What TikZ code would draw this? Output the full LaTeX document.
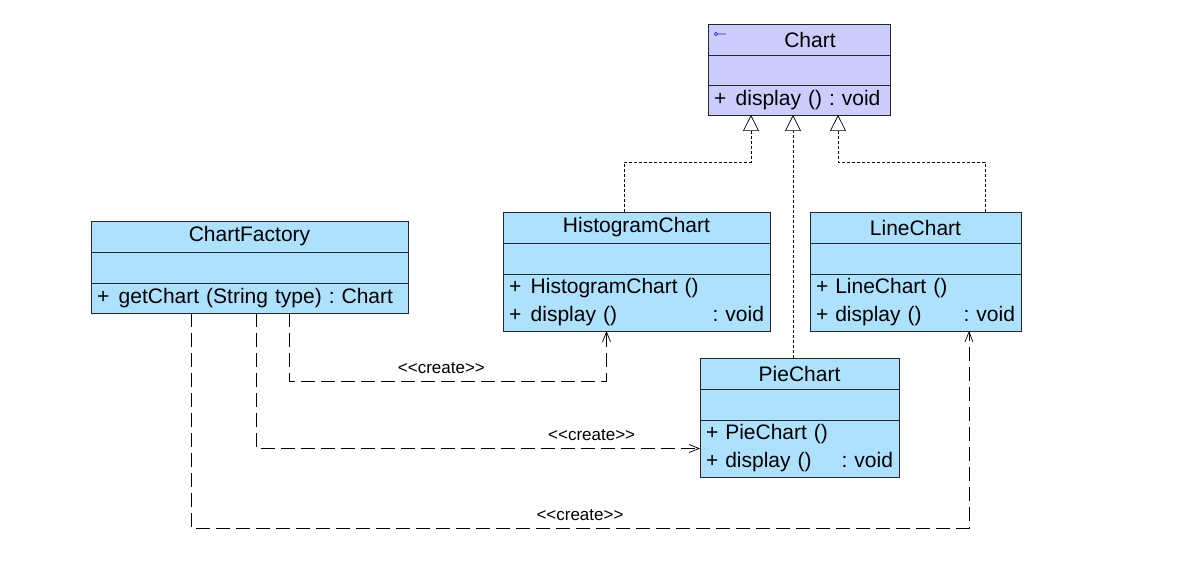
\documentclass[tikz,border=0pt]{standalone}
\usepackage{fontspec}
\setmainfont{Liberation Sans}
\usetikzlibrary{arrows.meta,positioning,calc}
\definecolor{clsfill}{RGB}{174,224,255}
\definecolor{ifill}{RGB}{204,204,255}
\definecolor{iconblue}{RGB}{40,40,230}
\newcommand{\clsfont}{\fontsize{21}{28}\selectfont\frenchspacing}
\newcommand{\lblfont}{\fontsize{17}{19}\selectfont}
\newcommand{\pub}{+\hspace{0.45em}}

\begin{document}
\begin{tikzpicture}[x=1pt,y=-1pt,
	every node/.style={font=\clsfont},
	part/.style={draw=black!85, fill=clsfill, inner sep=0pt, outer sep=0pt, minimum width=#1},
	namepart/.style={part=#1, minimum height=31},
	attrpart/.style={part=#1, minimum height=30},
	opspart/.style={part=#1, inner xsep=6pt, text width=#1-12, align=left},
	realize/.style={line width=0.7pt, dash pattern=on 3pt off 2pt, -{Triangle[open,length=16pt,width=16pt,line width=0.7pt]}},
	create/.style={line width=0.7pt, dash pattern=on 14pt off 6pt, -{Straight Barb[length=10pt,width=8pt]}},
	lbl/.style={font=\lblfont, inner sep=4pt, yshift=3pt}]
	\useasboundingbox (0,0) rectangle (1203,588);

	% interface
	\node[namepart=182, fill=ifill, anchor=north west] (chart) at (708,24) {\hspace*{22pt}Chart};
	\node[attrpart=182, fill=ifill, below=0pt of chart] (chartattr) {};
	\node[opspart=182, fill=ifill, minimum height=30, below=0pt of chartattr] (chartops) {\pub display () : void};
	\draw[iconblue, line width=0.6pt] (716,34) circle (1.6) (717.6,34) -- (726,34);

	% factory
	\node[namepart=317, anchor=north west] (factory) at (91,221) {ChartFactory};
	\node[attrpart=317, minimum height=31, below=0pt of factory] (factoryattr) {};
	\node[opspart=317, minimum height=30, below=0pt of factoryattr] (factoryops) {\pub getChart (String type) : Chart};

	% concrete charts
	\node[namepart=267, anchor=north west] (histo) at (503,212) {HistogramChart};
	\node[attrpart=267, minimum height=31, below=0pt of histo] (histoattr) {};
	\node[opspart=267, minimum height=57, below=0pt of histoattr] (histoops) {\pub HistogramChart ()\\\pub display () \hfill : void};

	\node[namepart=211, anchor=north west] (line) at (810,212) {LineChart};
	\node[attrpart=211, minimum height=31, below=0pt of line] (lineattr) {};
	\node[opspart=211, minimum height=57, below=0pt of lineattr] (lineops) {+ LineChart ()\\+ display () \hfill : void};

	\node[namepart=199, anchor=north west] (pie) at (700,358) {PieChart};
	\node[attrpart=199, minimum height=31, below=0pt of pie] (pieattr) {};
	\node[opspart=199, minimum height=57, below=0pt of pieattr] (pieops) {+ PieChart ()\\+ display () \hfill : void};

	% realization
	\draw[realize] ([xshift=-12.5]histo.north) |- ($(chartops.south)+(-48,47)$) -- ([xshift=-48]chartops.south);
	\draw[realize] ([xshift=-6.5]pie.north) -- ([xshift=-6]chartops.south);
	\draw[realize] ([xshift=69.5]line.north) |- ($(chartops.south)+(39,47)$) -- ([xshift=39]chartops.south);

	% create
	\draw[create] ([xshift=39.5]factoryops.south) |- node[lbl, pos=.74, above] {<{}<create>{}>} ($(histoops.south)+(-30,50)$) -- ([xshift=-30]histoops.south);
	\draw[create] ([xshift=6.5]factoryops.south) |- node[lbl, pos=.878, above] {<{}<create>{}>} (pieops.west);
	\draw[create] ([xshift=-58.5]factoryops.south) |- node[lbl, pos=.75, above] {<{}<create>{}>} ($(lineops.south)+(53.5,197)$) -- ([xshift=53.5]lineops.south);
\end{tikzpicture}
\end{document}
